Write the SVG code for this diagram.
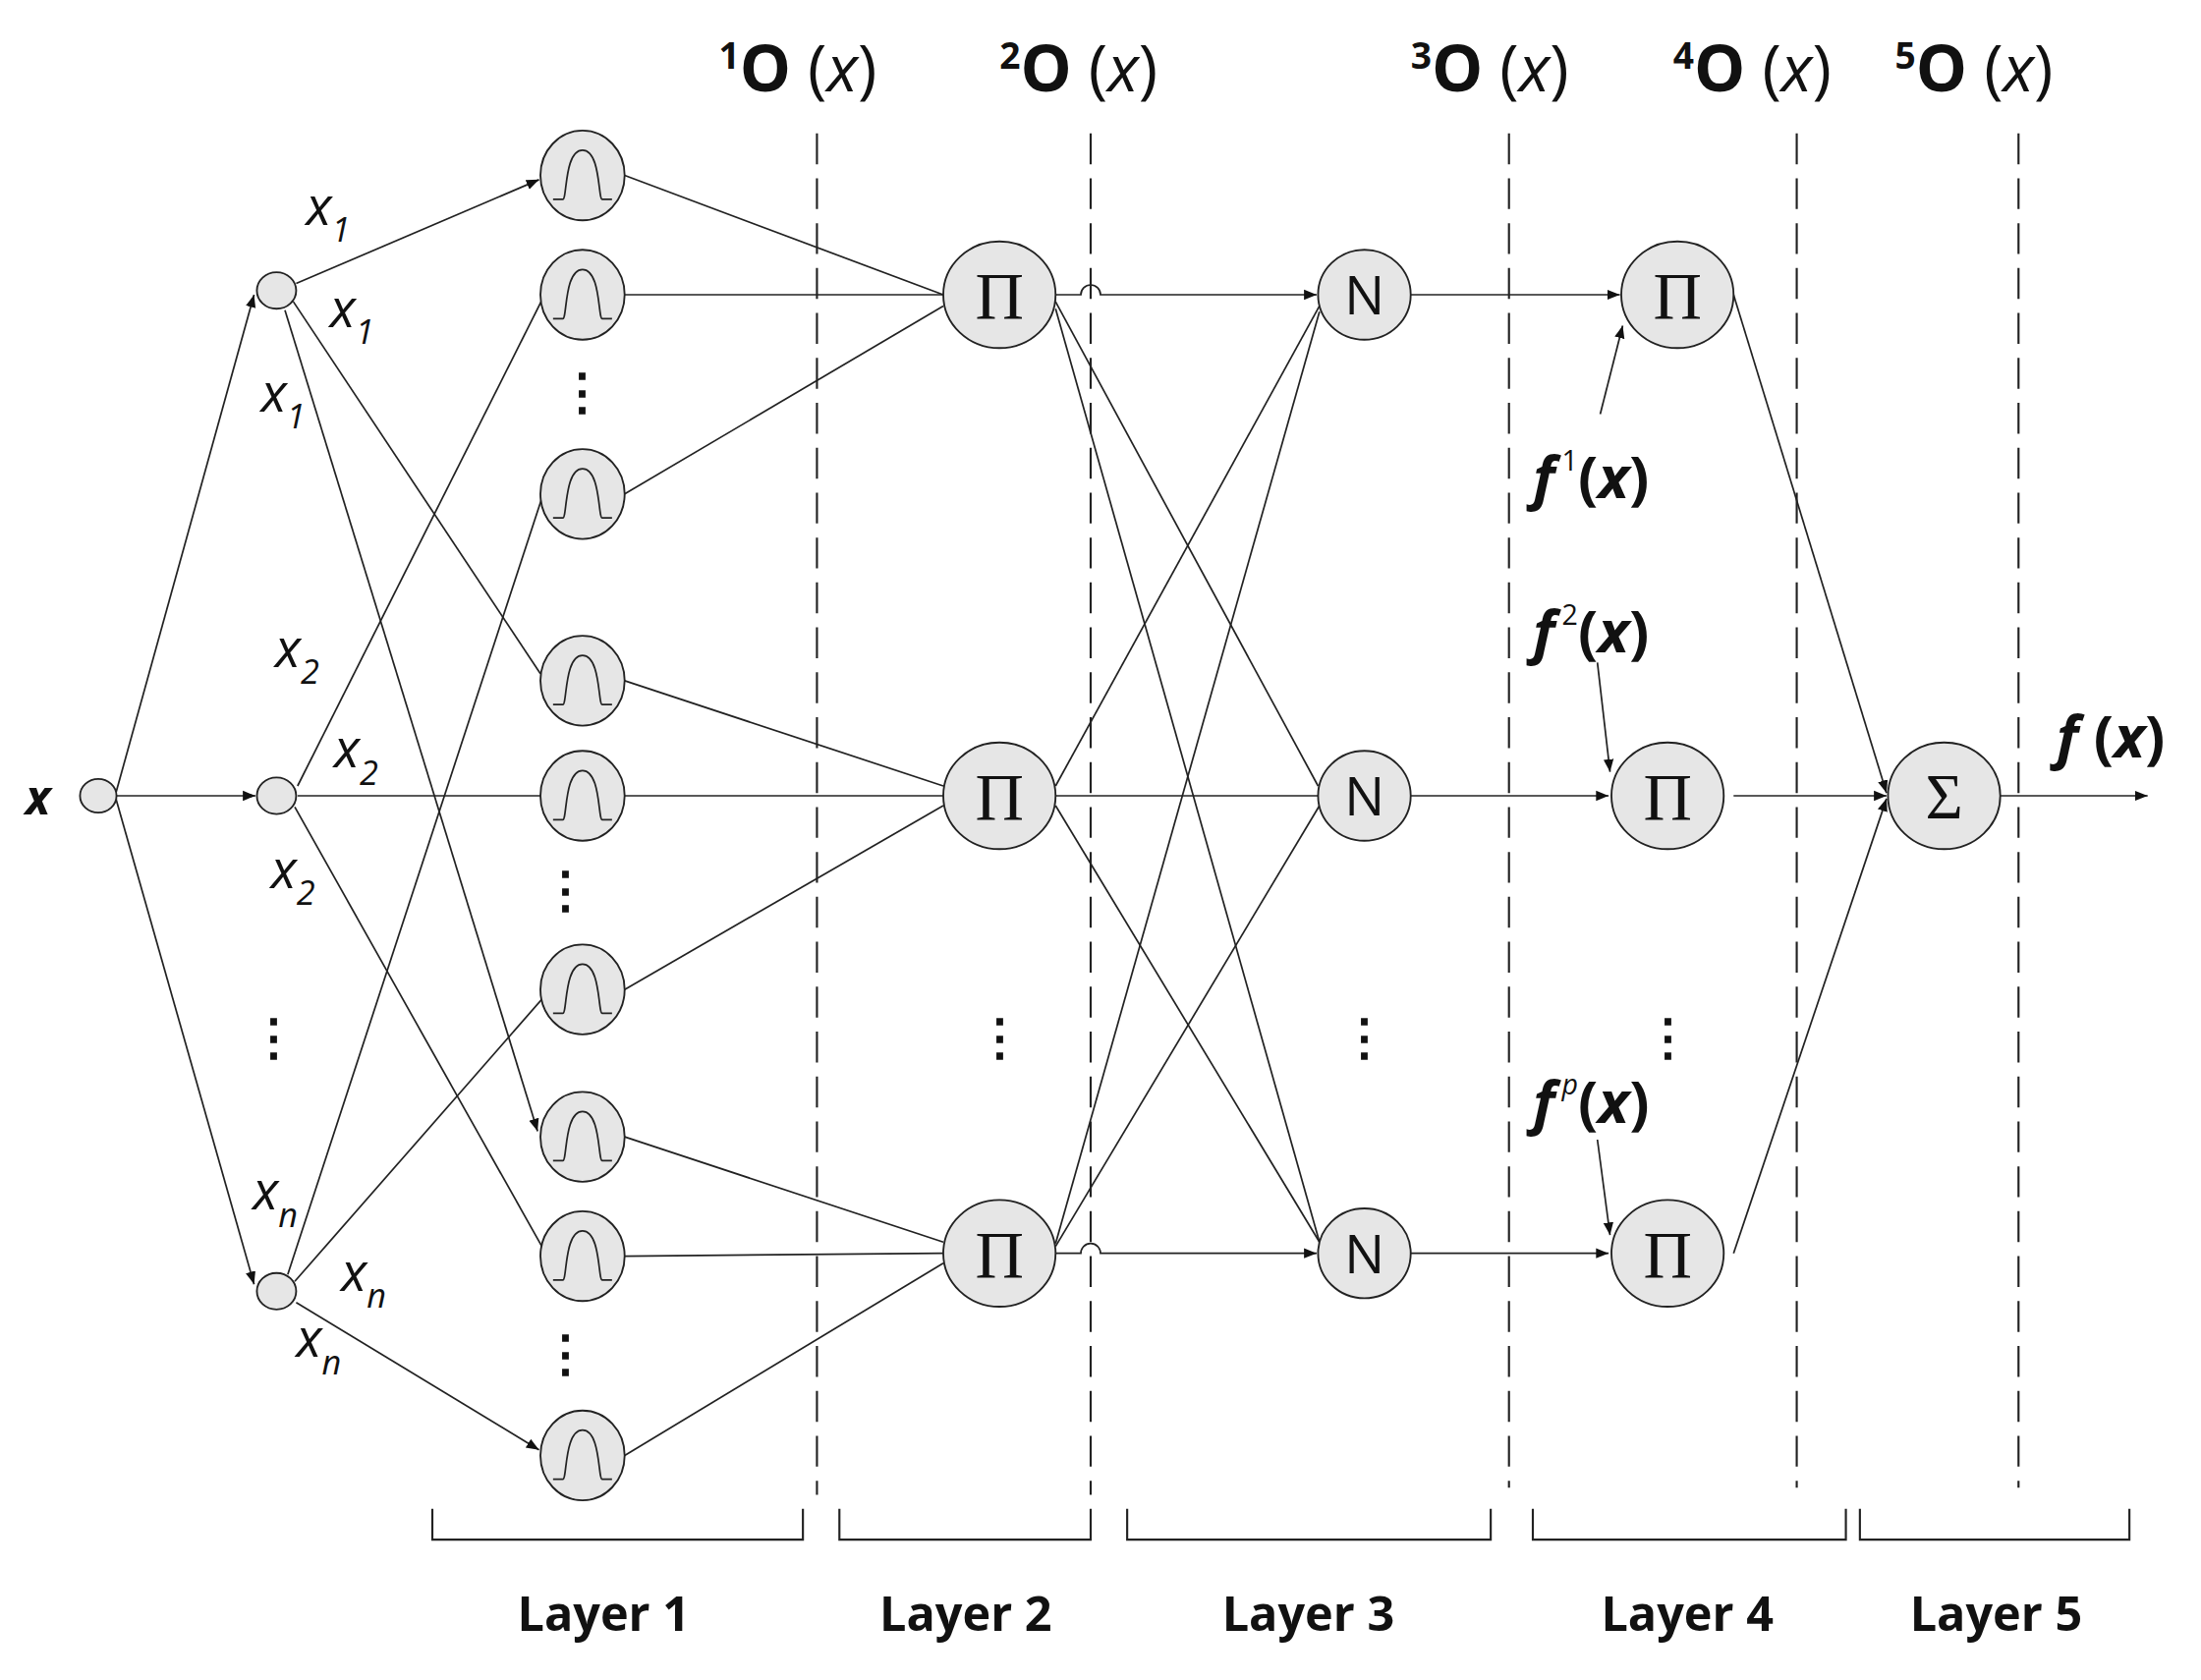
<svg xmlns="http://www.w3.org/2000/svg" width="2240" height="1710" viewBox="0 0 2240 1710">
<style>
.n{fill:#e6e6e6;stroke:#222;stroke-width:1.3}
.e{stroke:#222;stroke-width:1.2;fill:none}
.d{stroke:#222;stroke-width:1.5;stroke-dasharray:22 10;fill:none}
.b{stroke:#222;stroke-width:1.5;fill:none}
.t{font-family:"Open Sans","Liberation Sans",sans-serif;fill:#111}
.i{font-style:italic}
.s{font-family:"Liberation Serif",serif;fill:#111}
</style>
<defs>
<marker id="a" viewBox="0 0 10 10" refX="10" refY="5" markerWidth="9" markerHeight="9" orient="auto" markerUnits="userSpaceOnUse"><path d="M0,1 L10,5 L0,9 z" fill="#111"/></marker>
<g id="mf"><ellipse class="n" rx="30" ry="32"/><path class="e" stroke-width="2" d="M-21,17 L-14,17 C-11,17 -13,-18 0,-18 C13,-18 11,17 14,17 L21,17"/></g>
</defs>
<rect width="2240" height="1710" fill="#fff"/>
<g transform="scale(1.428571)">
<g id="connectors">
<line class="e" x1="82" y1="567" x2="181" y2="210" marker-end="url(#a)"/>
<line class="e" x1="82" y1="567" x2="182" y2="567" marker-end="url(#a)"/>
<line class="e" x1="82" y1="567" x2="181" y2="915" marker-end="url(#a)"/>
<line class="e" x1="211" y1="202" x2="384" y2="128" marker-end="url(#a)"/>
<line class="e" x1="209" y1="215" x2="385" y2="480"/>
<line class="e" x1="203" y1="221" x2="383" y2="806" marker-end="url(#a)"/>
<line class="e" x1="212" y1="560" x2="386" y2="214"/>
<line class="e" x1="212" y1="567" x2="385" y2="567"/>
<line class="e" x1="210" y1="575" x2="386" y2="888"/>
<line class="e" x1="205" y1="908" x2="386" y2="355"/>
<line class="e" x1="210" y1="913" x2="386" y2="712"/>
<line class="e" x1="211" y1="928" x2="384" y2="1033" marker-end="url(#a)"/>
<line class="e" x1="445" y1="125" x2="672" y2="210"/>
<line class="e" x1="445" y1="210" x2="672" y2="210"/>
<line class="e" x1="445" y1="352" x2="672" y2="218"/>
<line class="e" x1="445" y1="485" x2="672" y2="560"/>
<line class="e" x1="445" y1="567" x2="672" y2="567"/>
<line class="e" x1="445" y1="705" x2="672" y2="574"/>
<line class="e" x1="445" y1="810" x2="672" y2="885"/>
<line class="e" x1="445" y1="895" x2="672" y2="893"/>
<line class="e" x1="445" y1="1037" x2="672" y2="900"/>
<path class="e" d="M752,210 L770,210 A7,7 0 0 1 784,210 L938,210" marker-end="url(#a)"/>
<line class="e" x1="752" y1="215" x2="939" y2="560"/>
<line class="e" x1="752" y1="220" x2="940" y2="885"/>
<line class="e" x1="752" y1="560" x2="940" y2="218"/>
<line class="e" x1="752" y1="567" x2="939" y2="567"/>
<line class="e" x1="752" y1="574" x2="940" y2="885"/>
<line class="e" x1="752" y1="886" x2="940" y2="222"/>
<line class="e" x1="752" y1="888" x2="940" y2="574"/>
<path class="e" d="M752,893 L770,893 A7,7 0 0 1 784,893 L938,893" marker-end="url(#a)"/>
<line class="e" x1="1005" y1="210" x2="1154" y2="210" marker-end="url(#a)"/>
<line class="e" x1="1005" y1="567" x2="1146" y2="567" marker-end="url(#a)"/>
<line class="e" x1="1005" y1="893" x2="1146" y2="893" marker-end="url(#a)"/>
<line class="e" x1="1140" y1="295" x2="1156" y2="232" marker-end="url(#a)"/>
<line class="e" x1="1138" y1="472" x2="1147" y2="550" marker-end="url(#a)"/>
<line class="e" x1="1138" y1="812" x2="1147" y2="880" marker-end="url(#a)"/>
<line class="e" x1="1235" y1="210" x2="1344" y2="565" marker-end="url(#a)"/>
<line class="e" x1="1235" y1="567" x2="1344" y2="567" marker-end="url(#a)"/>
<line class="e" x1="1235" y1="893" x2="1344" y2="569" marker-end="url(#a)"/>
<line class="e" x1="1425" y1="567" x2="1530" y2="567" marker-end="url(#a)"/>
<line class="d" x1="582" y1="95" x2="582" y2="1065"/>
<line class="d" x1="777" y1="95" x2="777" y2="1065"/>
<line class="d" x1="1075" y1="95" x2="1075" y2="1060"/>
<line class="d" x1="1280" y1="95" x2="1280" y2="1060"/>
<line class="d" x1="1438" y1="95" x2="1438" y2="1060"/>
<path class="b" d="M308,1075 V1097 H572 V1075 M598,1075 V1097 H777 V1075 M803,1075 V1097 H1062 V1075 M1092,1075 V1097 H1315 V1075 M1325,1075 V1097 H1517 V1075"/>
</g>
<g id="input"><ellipse class="n" cx="70" cy="567" rx="13" ry="12"/><text class="t i" x="18" y="580" font-size="34" font-weight="bold">x</text></g>
<g id="split1"><ellipse class="n" cx="197" cy="207" rx="14" ry="13"/></g>
<g id="split2"><ellipse class="n" cx="197" cy="567" rx="14" ry="13"/></g>
<g id="splitn"><ellipse class="n" cx="197" cy="920" rx="14" ry="13"/></g>
<g id="mf1"><use href="#mf" x="415" y="125"/></g>
<g id="mf2"><use href="#mf" x="415" y="210"/></g>
<g id="mf3"><use href="#mf" x="415" y="352"/></g>
<g id="mf4"><use href="#mf" x="415" y="485"/></g>
<g id="mf5"><use href="#mf" x="415" y="567"/></g>
<g id="mf6"><use href="#mf" x="415" y="705"/></g>
<g id="mf7"><use href="#mf" x="415" y="810"/></g>
<g id="mf8"><use href="#mf" x="415" y="895"/></g>
<g id="mf9"><use href="#mf" x="415" y="1037"/></g>
<g id="p1"><ellipse class="n" cx="712" cy="210" rx="40" ry="38"/><text class="s" x="712" y="227" font-size="48" text-anchor="middle">Π</text></g>
<g id="p2"><ellipse class="n" cx="712" cy="567" rx="40" ry="38"/><text class="s" x="712" y="584" font-size="48" text-anchor="middle">Π</text></g>
<g id="p3"><ellipse class="n" cx="712" cy="893" rx="40" ry="38"/><text class="s" x="712" y="910" font-size="48" text-anchor="middle">Π</text></g>
<g id="n1"><ellipse class="n" cx="972" cy="210" rx="33" ry="32"/><text class="t" x="972" y="224" font-size="38" text-anchor="middle">N</text></g>
<g id="n2"><ellipse class="n" cx="972" cy="567" rx="33" ry="32"/><text class="t" x="972" y="581" font-size="38" text-anchor="middle">N</text></g>
<g id="n3"><ellipse class="n" cx="972" cy="893" rx="33" ry="32"/><text class="t" x="972" y="907" font-size="38" text-anchor="middle">N</text></g>
<g id="q1"><ellipse class="n" cx="1195" cy="210" rx="40" ry="38"/><text class="s" x="1195" y="227" font-size="48" text-anchor="middle">Π</text></g>
<g id="q2"><ellipse class="n" cx="1188" cy="567" rx="40" ry="38"/><text class="s" x="1188" y="584" font-size="48" text-anchor="middle">Π</text></g>
<g id="q3"><ellipse class="n" cx="1188" cy="893" rx="40" ry="38"/><text class="s" x="1188" y="910" font-size="48" text-anchor="middle">Π</text></g>
<g id="sum"><ellipse class="n" cx="1385" cy="567" rx="40" ry="38"/><text class="s" x="1385" y="583" font-size="46" text-anchor="middle">Σ</text></g>
<g id="labels" class="t">
<g font-size="36" font-weight="bold" text-anchor="middle">
<text x="195" y="752">⋮</text><text x="415" y="292">⋮</text><text x="403" y="647">⋮</text><text x="403" y="977">⋮</text>
<text x="712" y="752">⋮</text><text x="972" y="752">⋮</text><text x="1188" y="752">⋮</text></g>
<g font-size="38" class="i">
<text x="218" y="160">x<tspan font-size="24" dy="12">1</tspan></text>
<text x="235" y="233">x<tspan font-size="24" dy="12">1</tspan></text>
<text x="186" y="293">x<tspan font-size="24" dy="12">1</tspan></text>
<text x="196" y="475">x<tspan font-size="24" dy="12">2</tspan></text>
<text x="238" y="547">x<tspan font-size="24" dy="12">2</tspan></text>
<text x="193" y="633">x<tspan font-size="24" dy="12">2</tspan></text>
<text x="180" y="862">x<tspan font-size="24" dy="12">n</tspan></text>
<text x="243" y="920">x<tspan font-size="24" dy="12">n</tspan></text>
<text x="211" y="967">x<tspan font-size="24" dy="12">n</tspan></text></g>
<g font-size="42" font-weight="bold">
<text x="1092" y="355"><tspan font-style="italic">f</tspan><tspan font-size="20" dx="5" dy="-20" font-weight="normal">1</tspan><tspan dy="20">(<tspan font-style="italic">x</tspan>)</tspan></text>
<text x="1092" y="465"><tspan font-style="italic">f</tspan><tspan font-size="20" dx="5" dy="-20" font-weight="normal">2</tspan><tspan dy="20">(<tspan font-style="italic">x</tspan>)</tspan></text>
<text x="1092" y="800"><tspan font-style="italic">f</tspan><tspan font-size="20" dx="5" dy="-20" font-weight="normal" font-style="italic">p</tspan><tspan dy="20">(<tspan font-style="italic">x</tspan>)</tspan></text>
<text x="1465" y="540"><tspan font-style="italic">f</tspan> (<tspan font-style="italic">x</tspan>)</text></g>
<g font-size="46">
<text x="512" y="65"><tspan font-size="26" dy="-16" font-weight="bold">1</tspan><tspan dy="16" font-weight="bold">O</tspan> (<tspan font-style="italic">x</tspan>)</text>
<text x="712" y="65"><tspan font-size="26" dy="-16" font-weight="bold">2</tspan><tspan dy="16" font-weight="bold">O</tspan> (<tspan font-style="italic">x</tspan>)</text>
<text x="1005" y="65"><tspan font-size="26" dy="-16" font-weight="bold">3</tspan><tspan dy="16" font-weight="bold">O</tspan> (<tspan font-style="italic">x</tspan>)</text>
<text x="1192" y="65"><tspan font-size="26" dy="-16" font-weight="bold">4</tspan><tspan dy="16" font-weight="bold">O</tspan> (<tspan font-style="italic">x</tspan>)</text>
<text x="1350" y="65"><tspan font-size="26" dy="-16" font-weight="bold">5</tspan><tspan dy="16" font-weight="bold">O</tspan> (<tspan font-style="italic">x</tspan>)</text></g>
<g font-size="34" font-weight="bold" text-anchor="middle">
<text x="430" y="1162">Layer 1</text><text x="688" y="1162">Layer 2</text><text x="932" y="1162">Layer 3</text><text x="1202" y="1162">Layer 4</text><text x="1422" y="1162">Layer 5</text></g>
</g>
</g>
</svg>
